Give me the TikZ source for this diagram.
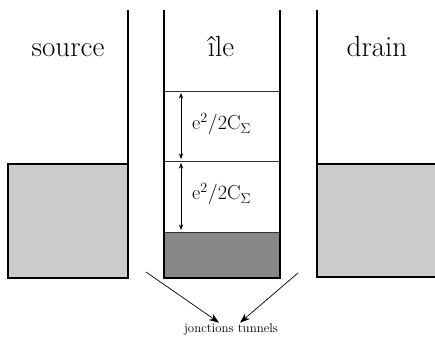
\documentclass[tikz,border=0pt]{standalone}
\usepackage{amsmath}
\usepackage{xcolor}
\usepackage{tikz}
\usetikzlibrary{arrows.meta,calc}
\definecolor{resgray}{RGB}{204,204,204}
\definecolor{isldark}{RGB}{136,136,136}

\begin{document}
\begin{tikzpicture}[x=0.03cm,y=-0.03cm,
    wall/.style={line width=2pt,line join=miter},
    level/.style={line width=0.6pt,color=black!80},
    ar/.style={-{Stealth[length=3mm,width=2.2mm]},line width=0.6pt},
    dar/.style={{Stealth[length=1.7mm,width=1.3mm]}-{Stealth[length=1.7mm,width=1.3mm]},line width=0.6pt},
    lab/.style={font=\Huge,anchor=base,inner sep=0pt},
    gap/.style={font=\LARGE,anchor=base west,inner sep=0pt},
  ]
  \useasboundingbox (0,0) rectangle (435,343);

  % source
  \draw[wall,fill=resgray] (8,164) rectangle (128,278);
  \draw[wall] (128,10) -- (128,164);
  \node[lab] (source) at (68,57) {source};

  % island
  \coordinate (iltop) at (164,10);
  \coordinate (irtop) at (280,10);
  \coordinate (ilbot) at (164,278);
  \coordinate (irbot) at (280,278);
  \fill[isldark] (164,232) rectangle (irbot);
  \foreach \y/\n in {91/a,161/b,232/c}
    \draw[level] (164,\y) coordinate (lv\n) -- (280,\y);
  \draw[wall] (iltop) -- (ilbot) -- (irbot) -- (irtop);
  \node[lab] (ile) at (221,57) {île};

  \draw[dar] ($(lva)+(17,2)$) -- ($(lvb)+(17,-2)$);
  \node[gap] (gapa) at ($(lva)+(28,39)$) {$\mathrm{e}^2/2\mathrm{C}_\Sigma$};
  \draw[dar] ($(lvb)+(17,2)$) -- ($(lvc)+(17,-2)$);
  \node[gap] (gapb) at ($(lvb)+(28,39)$) {$\mathrm{e}^2/2\mathrm{C}_\Sigma$};

  % drain
  \fill[resgray] (317,164) rectangle (440,277);
  \draw[wall] (317,10) -- (317,277) -- (440,277);
  \draw[wall] (317,164) -- (440,164);
  \node[lab] (drain) at (377,57) {drain};

  % junctions
  \node[font=\fontsize{11}{13}\selectfont,anchor=base,inner sep=1pt] (tunnels) at (231,333) {jonctions tunnels};
  \coordinate (jsrc) at (146,272);
  \coordinate (jdrn) at (298,273);
  \draw[ar] (jsrc) -- ([xshift=-0.36cm]tunnels.north);
  \draw[ar] (jdrn) -- ([xshift=0.27cm]tunnels.north);
\end{tikzpicture}
\end{document}
